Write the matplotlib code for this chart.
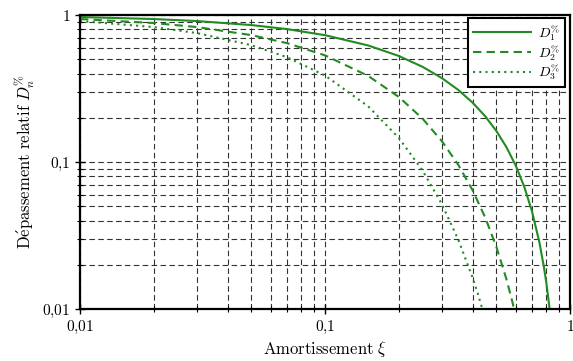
import matplotlib.pyplot as plt
from matplotlib.ticker import FixedLocator, FixedFormatter, NullFormatter, LogLocator

plt.rcParams['mathtext.fontset'] = 'cm'
plt.rcParams['font.family'] = 'serif'
plt.rcParams['font.serif'] = ['cmr10', 'DejaVu Serif']
plt.rcParams['axes.unicode_minus'] = False

# values (damping xi -> relative overshoot)
xi_1 = [0.01, 0.02, 0.03, 0.05, 0.07, 0.1, 0.15, 0.2, 0.25, 0.3, 0.35, 0.4,
        0.45, 0.5, 0.55, 0.6, 0.65, 0.7, 0.75, 0.78, 0.8, 0.83]
d_1 = [0.9691, 0.9391, 0.9100, 0.8545, 0.8022, 0.7292, 0.6209, 0.5266, 0.4443,
       0.3723, 0.3092, 0.2538, 0.2054, 0.1630, 0.1263, 0.0948, 0.0681, 0.0460,
       0.0284, 0.0199, 0.0152, 0.00933]

xi_2 = [0.01, 0.02, 0.03, 0.05, 0.07, 0.1, 0.15, 0.2, 0.25, 0.3, 0.35, 0.4,
        0.45, 0.5, 0.55, 0.58, 0.6]
d_2 = [0.9392, 0.8819, 0.8281, 0.7302, 0.6435, 0.5317, 0.3855, 0.2773, 0.1974,
       0.1386, 0.0956, 0.0644, 0.0422, 0.0266, 0.0160, 0.0114, 0.0090]

xi_3 = [0.01, 0.02, 0.03, 0.05, 0.07, 0.1, 0.15, 0.2, 0.25, 0.3, 0.35, 0.4,
        0.42, 0.45]
d_3 = [0.9102, 0.8282, 0.7536, 0.6239, 0.5163, 0.3877, 0.2393, 0.1460, 0.0877,
       0.0516, 0.0296, 0.0164, 0.0128, 0.00866]

tick_vals = [0.01, 0.1, 1]
tick_labels = [r'$0{,}01$', r'$0{,}1$', r'$1$']

green = '#228b22'

fig = plt.figure(figsize=(5.73, 3.61), dpi=100)
ax = fig.add_axes([0.1396, 0.144, 0.8552, 0.8144])

ax.plot(xi_1, d_1, color=green, lw=1.5, ls='-', label=r'$D_1^{\%}$')
ax.plot(xi_2, d_2, color=green, lw=1.5, ls=(0, (4, 2.5)), label=r'$D_2^{\%}$')
ax.plot(xi_3, d_3, color=green, lw=1.5, ls=(0, (1, 2)), label=r'$D_3^{\%}$')

ax.set_xscale('log')
ax.set_yscale('log')
ax.set_xlim(0.01, 1)
ax.set_ylim(0.01, 1)

for axis in (ax.xaxis, ax.yaxis):
    axis.set_major_locator(FixedLocator(tick_vals))
    axis.set_major_formatter(FixedFormatter(tick_labels))
    axis.set_minor_locator(LogLocator(base=10, subs=range(2, 10)))
    axis.set_minor_formatter(NullFormatter())

ax.tick_params(which='major', direction='inout', length=7, width=1, labelsize=11)
ax.tick_params(which='minor', direction='inout', length=5, width=0.8)
ax.grid(True, which='both', color='0.2', ls=(0, (5, 3)), lw=0.8)

for sp in ax.spines.values():
    sp.set_linewidth(1.6)

ax.set_xlabel(r'$\mathrm{Amortissement}\ \xi$', fontsize=12, labelpad=2)
ax.set_ylabel(r'$\mathrm{D\acute{e}passement\ relatif}\ D_n^{\%}$', fontsize=12, labelpad=4)

leg = ax.legend(loc='upper right', bbox_to_anchor=(0.99, 0.99), fancybox=False,
                framealpha=1, edgecolor='black', fontsize=10, handlelength=4.2,
                labelspacing=0.0, handletextpad=0.5, borderpad=0.35, borderaxespad=0)
leg.get_frame().set_linewidth(1.5)

fig.savefig('out.png', dpi=100)
